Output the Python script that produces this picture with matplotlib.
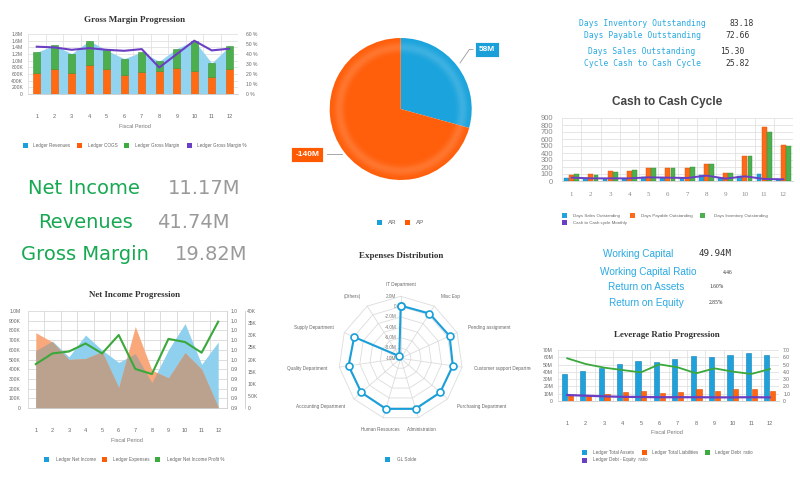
import numpy as np
import matplotlib
matplotlib.use('Agg')
import matplotlib.pyplot as plt
from matplotlib.patches import Rectangle, Circle
from matplotlib.lines import Line2D
from matplotlib.transforms import Bbox, TransformedBbox
from matplotlib.ticker import FixedLocator, FixedFormatter

plt.rcParams['font.family'] = ['Liberation Sans', 'DejaVu Sans']

# ---------------- data ----------------
periods = list(range(1, 13))
period_labels = [str(p) for p in periods]

# Gross Margin Progression (values in M, percent)
gm_revenues = [1.25, 1.46, 1.21, 1.60, 1.31, 1.06, 1.26, 0.98, 1.36, 1.60, 0.93, 1.43]
gm_cogs = [0.64, 0.76, 0.64, 0.86, 0.74, 0.58, 0.66, 0.70, 0.79, 0.70, 0.52, 0.75]
gm_margin = [0.61, 0.70, 0.57, 0.74, 0.57, 0.48, 0.60, 0.28, 0.57, 0.90, 0.41, 0.68]
gm_pct = [47.3, 46.6, 44.2, 45.9, 44.2, 43.2, 44.9, 26.5, 39.9, 53.3, 43.6, 45.3]

# Pie AR / AP (M)
pie_labels = ['AR', 'AP']
pie_values = [58, 140]
pie_texts = ['58M', '-140M']

# Top-right KPIs
cycle_names = ['Days Inventory Outstanding', 'Days Payable Outstanding',
               'Days Sales Outstanding', 'Cycle Cash to Cash Cycle']
cycle_values = ['83.18', '72.66', '15.30', '25.82']

# Cash to Cash Cycle
dso = [48, 43, 34, 34, 62, 48, 38, 91, 38, 72, 96, 34]
dpo = [91, 101, 140, 144, 192, 192, 188, 245, 115, 361, 765, 515]
dio = [96, 87, 135, 154, 183, 192, 197, 236, 111, 356, 697, 500]
ccc = [48, 38, 38, 38, 52, 48, 43, 77, 34, 67, 29, 24]

# Left KPIs
kpi_names = ['Net Income', 'Revenues', 'Gross Margin']
kpi_values = ['11.17M', '41.74M', '19.82M']

# Net Income Progression (M, K)
ni_net_income = [0.593, 0.69, 0.528, 0.752, 0.597, 0.47, 0.56, 0.26, 0.60, 0.87, 0.45, 0.68]
ni_expenses = [0.776, 0.68, 0.50, 0.51, 0.58, 0.21, 0.84, 0.39, 0.31, 0.57, 0.40, 0.01]
ni_profit = [18.1, 22.5, 23.3, 26.6, 22.5, 30.1, 16.1, 14.0, 28.5, 27.2, 22.8, 35.6]

# Expenses Distribution (M)
exp_categories = ['IT Department', 'Misc Exp', 'Pending assignment',
                  'Customer support Department', 'Purchasing Department',
                  'Administration', 'Human Resources', 'Accounting Department',
                  'Quality Department', 'Supply Department', '(Others)']
exp_values = [0.2, 0.3, 0.4, 0.2, 0.1, 0.2, 0.2, 0.1, 0.2, -0.1, -9.5]

# Working capital KPIs
wc_names = ['Working Capital', 'Working Capital Ratio', 'Return on Assets', 'Return on Equity']
wc_values = ['49.94M', '4.46', '1.60%', '2.85%']

# Leverage Ratio Progression
lev_assets = [36.6, 41.2, 45.7, 51.2, 54.9, 53.1, 57.2, 61.3, 60.4, 63.1, 65.4, 63.1]
lev_liab = [8.2, 8.2, 9.6, 11.9, 13.7, 11.0, 12.4, 16.0, 13.7, 16.0, 16.9, 13.7]
lev_debt_ratio = [5.86, 5.08, 4.58, 4.25, 3.93, 5.03, 4.62, 3.80, 4.48, 4.03, 3.71, 4.39]
lev_de_ratio = [0.82, 0.73, 0.64, 0.57, 0.55, 0.52, 0.52, 0.52, 0.50, 0.50, 0.52, 0.50]

# ---------------- helpers ----------------
W, H = 800, 487
fig = plt.figure(figsize=(W / 100, H / 100), dpi=100)
fig.patch.set_facecolor('white')

BLUE = '#1a9fdb'
ORANGE = '#ff5c0a'
GREEN = '#3dab3d'
PURPLE = '#6b3fc4'
GRID = '#e2e2e2'
TICK = '#666666'


def add_ax(x0, y0, x1, y1, **kw):
    return fig.add_axes([x0 / W, 1 - y1 / H, (x1 - x0) / W, (y1 - y0) / H], **kw)


def ftext(x, y, s, **kw):
    return fig.text(x / W, 1 - y / H, s, **kw)


def fline(xs, ys, **kw):
    fig.add_artist(Line2D([x / W for x in xs], [1 - y / H for y in ys],
                          transform=fig.transFigure, **kw))


def legend_sq(xs, yc, color, tx, label, s=5, fs=3.3):
    fig.add_artist(Rectangle((xs / W, 1 - (yc + s / 2) / H), s / W, s / H,
                             transform=fig.transFigure, facecolor=color,
                             edgecolor='none'))
    ftext(tx, yc, label, fontsize=fs, color='#666666', va='center', ha='left')


def title(x, y, s, fs=6.5):
    ftext(x, y, s, fontsize=fs, fontweight='bold', color='#333333',
          family='Liberation Serif', ha='center', va='center')


def base_style(ax, xpad=14.4, xfs=4.0, yfs=3.6, ypad=3.6):
    for side in ['left', 'top', 'right']:
        ax.spines[side].set_visible(False)
    ax.spines['bottom'].set_color('#cccccc')
    ax.spines['bottom'].set_linewidth(0.6)
    ax.set_xlim(0.5, 12.5)
    ax.set_xticks(periods)
    ax.set_xticklabels(period_labels)
    ax.set_xticks(np.arange(0.5, 13, 1), minor=True)
    ax.tick_params(axis='x', which='both', length=0, pad=xpad, labelsize=xfs,
                   labelcolor=TICK)
    ax.tick_params(axis='y', length=0, pad=ypad, labelsize=yfs, labelcolor=TICK)
    ax.grid(True, which='minor', axis='x', color=GRID, lw=0.6)
    ax.grid(True, which='major', axis='y', color=GRID, lw=0.6)
    ax.set_axisbelow(True)


def fmt_k(v):
    if v == 0:
        return '0'
    if v >= 1e6:
        return f'{v / 1e6:.1f}M'
    return f'{v / 1e3:.0f}K'


x = np.array(periods, dtype=float)

# ---------------- Gross Margin Progression ----------------
title(135, 20, 'Gross Margin Progression')
ax = add_ax(28, 34, 238, 94)
base_style(ax)
ax.fill_between(x, np.array(gm_revenues) * 1e6, color='#92d3ef', lw=0, zorder=1)
ax.bar(x, np.array(gm_cogs) * 1e6, width=0.42, color='#ff6a13', edgecolor='#e85a05',
       lw=0.4, zorder=2)
ax.bar(x, np.array(gm_margin) * 1e6, bottom=np.array(gm_cogs) * 1e6, width=0.42,
       color='#4cae4c', edgecolor='#3a963a', lw=0.4, zorder=2)
ax.set_ylim(0, 1.8e6)
yt = np.arange(0, 1.81e6, 0.2e6)
ax.set_yticks(yt)
ax.set_yticklabels([fmt_k(v) for v in yt])
ax2 = ax.twinx()
ax2.plot(x, gm_pct, color=PURPLE, lw=1.5, zorder=3)
ax2.set_ylim(0, 60)
ax2.set_yticks(range(0, 61, 10))
ax2.set_yticklabels([f'{v} %' for v in range(0, 61, 10)])
ax2.tick_params(length=0, labelsize=3.6, labelcolor=TICK, pad=6)
for s in ax2.spines.values():
    s.set_visible(False)
ftext(135, 126, 'Fiscal Period', fontsize=4, color='#777777', ha='center', va='center')
legend_sq(22.7, 145.5, BLUE, 33.3, 'Ledger Revenues')
legend_sq(77.3, 145.5, ORANGE, 88.3, 'Ledger COGS')
legend_sq(124, 145.5, GREEN, 135, 'Ledger Gross Margin')
legend_sq(186.7, 145.5, PURPLE, 197.3, 'Ledger Gross Margin %')

# ---------------- Pie ----------------
cx, cy, r = 400.7, 109, 71
axp = add_ax(cx - r, cy - r, cx + r, cy + r)
axp.pie(pie_values, startangle=90, counterclock=False,
        colors=['#1aa3dc', '#ff5e0a'], radius=1,
        wedgeprops=dict(edgecolor='none'))
# smooth radial shading (lighter band near the rim)
gy, gx = np.mgrid[-1:1:400j, -1:1:400j]
gr = np.hypot(gx, gy)
shade = np.zeros((400, 400, 4))
shade[..., :3] = 1.0
shade[..., 3] = 0.15 * np.exp(-((gr - 0.87) / 0.07) ** 2)
im = axp.imshow(shade, extent=[-1, 1, -1, 1], origin='lower', interpolation='bilinear',
                zorder=5)
im.set_clip_path(Circle((0, 0), 1, transform=axp.transData))
axp.set_xlim(-1, 1)
axp.set_ylim(-1, 1)
axp.set_aspect('auto')
axp.axis('off')
fline([460, 469.3, 473], [63, 49.5, 49.5], color='#999999', lw=0.6)
fline([326.7, 341.7], [154.3, 154.3], color='#999999', lw=0.6)
ftext(487, 49.7, pie_texts[0], fontsize=6, fontweight='bold', color='white',
      ha='center', va='center',
      bbox=dict(boxstyle='square,pad=0.5', facecolor='#1a9fd9', edgecolor='white', lw=0.6))
ftext(307.3, 154.5, pie_texts[1], fontsize=6, fontweight='bold', color='white',
      ha='center', va='center',
      bbox=dict(boxstyle='square,pad=0.5', facecolor='#ff5a00', edgecolor='white', lw=0.6))
legend_sq(377, 222.5, '#1a9fd9', 388, pie_labels[0], s=5, fs=4.5)
legend_sq(405, 222.5, '#ff5a00', 415.7, pie_labels[1], s=5, fs=4.5)

# ---------------- Top-right KPI text ----------------
cyc_y = [23.3, 36, 51, 63.3]
cyc_vx = [730, 725, 720, 725]
for name, val, yy, vx in zip(cycle_names, cycle_values, cyc_y, cyc_vx):
    ftext(642, yy, name, fontsize=5.8, family='DejaVu Sans Mono', color='#29a9e1',
          ha='center', va='center')
    ftext(vx, yy, val, fontsize=5.8, family='DejaVu Sans Mono', color='#333333',
          ha='left', va='center')

# ---------------- Cash to Cash Cycle ----------------
ftext(667, 102, 'Cash to Cash Cycle', fontsize=8.5, fontweight='bold', color='#444444',
      ha='center', va='center')
axc = add_ax(562, 118, 793, 181)
base_style(axc, xpad=8, xfs=5, yfs=5.5, ypad=6.5)
for lbl in axc.get_xticklabels():
    lbl.set_family('Liberation Serif')
    lbl.set_color('#888888')
axc.bar(x - 0.27, dso, width=0.25, color='#22a3de', edgecolor='#1284b8', lw=0.3, zorder=2)
axc.bar(x, dpo, width=0.25, color='#ff6a1a', edgecolor='#e05000', lw=0.3, zorder=2)
axc.bar(x + 0.27, dio, width=0.25, color='#4caf50', edgecolor='#359035', lw=0.3, zorder=2)
axc.plot(x, ccc, color=PURPLE, lw=1.4, zorder=3)
axc.set_ylim(0, 900)
axc.set_yticks(range(0, 901, 100))
axc.tick_params(axis='y', labelcolor='#888888')
legend_sq(561.7, 215.5, '#22a3de', 572.7, 'Days Sales Outstanding', fs=3.2)
legend_sq(630, 215.5, '#ff6a1a', 640.7, 'Days Payable Outstanding', fs=3.2)
legend_sq(700, 215.5, '#4caf50', 714, 'Days Inventory Outstanding', fs=3.2)
legend_sq(561.7, 222.7, PURPLE, 572.7, 'Cash to Cash cycle Monthly', fs=3.2)

# ---------------- Left KPIs ----------------
kpi_y = [188, 222, 255]
kpi_cx = [84, 85, 85]
kpi_vx = [168, 157, 175]
for name, val, yy, ccx, vx in zip(kpi_names, kpi_values, kpi_y, kpi_cx, kpi_vx):
    ftext(ccx, yy, name, fontsize=14, family='DejaVu Sans', color='#17a852',
          ha='center', va='center')
    ftext(vx, yy, val, fontsize=14, family='DejaVu Sans', color='#9a9a9a',
          ha='left', va='center')

# ---------------- Net Income Progression ----------------
title(135, 295, 'Net Income Progression')
axn = add_ax(27.5, 311, 226.5, 408)
base_style(axn, ypad=5)
xf = np.linspace(1, 12, 1101)
b_f = np.interp(xf, x, np.array(ni_net_income) * 1e6)
o_f = np.interp(xf, x, np.array(ni_expenses) * 1e6)
axn.fill_between(xf, b_f, color='#8fd0ee', lw=0, zorder=1)
axn.fill_between(xf, o_f, color='#f9a87c', lw=0, zorder=1)
axn.fill_between(xf, np.minimum(b_f, o_f), color='#baa28f', lw=0, zorder=1)
axn.set_ylim(0, 1.0e6)
yt = np.arange(0, 1.01e6, 1e5)
axn.set_yticks(yt)
axn.set_yticklabels([fmt_k(v) for v in yt])
axn.grid(True, which='minor', axis='x', color='#d8d8d8', lw=0.6)
axn.grid(True, which='major', axis='y', color='#d8d8d8', lw=0.6)
axn2 = axn.twinx()
axn2.set_ylim(0, 10)
axn2.yaxis.set_major_locator(FixedLocator(range(11)))
axn2.yaxis.set_major_formatter(FixedFormatter(['0.9'] * 5 + ['1.0'] * 6))
axn2.tick_params(length=0, labelsize=3.6, labelcolor=TICK, pad=3)
for s in ['left', 'top', 'bottom']:
    axn2.spines[s].set_visible(False)
axn2.spines['right'].set_color('#cccccc')
axn2.spines['right'].set_linewidth(0.6)
axn3 = axn.twinx()
axn3.spines['right'].set_position(('outward', 13))
for s in ['left', 'top', 'bottom']:
    axn3.spines[s].set_visible(False)
axn3.spines['right'].set_color('#cccccc')
axn3.spines['right'].set_linewidth(0.6)
axn3.plot(x, ni_profit, color='#3aa83a', lw=1.5, zorder=3)
axn3.set_ylim(0, 40)
axn3.set_yticks(range(0, 41, 5))
axn3.set_yticklabels(['0', '5.0K'] + [f'{v}K' for v in range(10, 41, 5)])
axn3.tick_params(length=0, labelsize=3.6, labelcolor=TICK, pad=2)
ftext(127, 441, 'Fiscal Period', fontsize=4, color='#777777', ha='center', va='center')
legend_sq(44.3, 459.5, BLUE, 55.7, 'Ledger Net Income')
legend_sq(102, 459.5, ORANGE, 113.3, 'Ledger Expenses')
legend_sq(155.3, 459.5, GREEN, 166.7, 'Ledger Net Income Profit %')

# ---------------- Expenses Distribution (radar) ----------------
title(401, 256, 'Expenses Distribution')
rcx, rcy, rr = 400.7, 358.3, 62
axr = add_ax(rcx - rr, rcy - rr, rcx + rr, rcy + rr, projection='polar')
axr.set_theta_zero_location('N')
axr.set_theta_direction(-1)
rmin, rmax = -10, 2
axr.set_ylim(rmin, rmax)
axr.set_axis_off()
n = len(exp_categories)
theta = np.arange(n) * 2 * np.pi / n
thc = np.r_[theta, theta[0]]
for rv in range(-8, 3, 2):
    axr.plot(thc, [rv] * (n + 1), color='#dcdcdc', lw=0.6, clip_on=False, zorder=1)
for th in theta:
    axr.plot([th, th], [rmin, rmax], color='#dcdcdc', lw=0.6, clip_on=False, zorder=1)
ring_labels = {2: '2.0M', 0: '0', -2: '-2.0M', -4: '-4.0M', -6: '-6.0M', -8: '-8.0M', -10: '-10M'}
for rv, lab in ring_labels.items():
    axr.annotate(lab, xy=(0, rv), xytext=(-3, 0), textcoords='offset points',
                 ha='right', va='center', fontsize=3.3, color='#777777')
vals = np.array(exp_values)
axr.plot(thc, np.r_[vals, vals[0]], color='#1a9fd9', lw=1.5, marker='o', ms=5,
         mfc='white', mec='#1a9fd9', mew=1.2, clip_on=False, zorder=3)
clipbox = TransformedBbox(Bbox.from_extents(270 / W, 0, 531 / W, 1), fig.transFigure)
r_lab = rmax + (74 - rr) / rr * (rmax - rmin)
for th, lab in zip(theta, exp_categories):
    s = np.sin(th)
    ha = 'center' if abs(s) < 0.3 else ('left' if s > 0 else 'right')
    t = axr.text(th, r_lab, lab, ha=ha, va='center', fontsize=3.3, color='#666666',
                 clip_on=False)
    if lab.startswith('Customer'):
        t.set_clip_on(True)
        t.set_clip_box(clipbox)
legend_sq(385, 459.7, '#1a9fd9', 396.7, 'GL Solde')

# ---------------- Working capital KPIs ----------------
wc_y = [254, 272, 287, 303]
wc_cx = [638, 648, 646.5, 646.5]
wc_vx = [699, 723, 709, 709]
for i, (name, val, yy, ccx, vx) in enumerate(zip(wc_names, wc_values, wc_y, wc_cx, wc_vx)):
    ftext(ccx, yy, name, fontsize=7.2, color='#29a9e1', ha='center', va='center')
    if i == 0:
        ftext(vx, yy, val, fontsize=6.6, family='DejaVu Sans Mono', color='#333333',
              ha='left', va='center')
    else:
        ftext(vx, yy, val, fontsize=4, family='Liberation Serif', color='#333333',
              ha='left', va='center')

# ---------------- Leverage Ratio Progression ----------------
title(667, 335, 'Leverage Ratio Progression')
axl = add_ax(558, 350, 779, 401)
base_style(axl, ypad=3.6)
axl.bar(x - 0.16, lev_assets, width=0.28, color='#1fa2dc', edgecolor='#117fb2', lw=0.4, zorder=2)
axl.bar(x + 0.16, lev_liab, width=0.28, color='#ff6512', edgecolor='#dd5000', lw=0.4, zorder=2)
axl.set_ylim(0, 70)
axl.set_yticks(range(0, 71, 10))
axl.set_yticklabels(['0'] + [f'{v}M' for v in range(10, 71, 10)])
axl2 = axl.twinx()
axl2.plot(x, lev_debt_ratio, color='#3aa83a', lw=1.3, zorder=3)
axl2.plot(x, lev_de_ratio, color=PURPLE, lw=1.6, zorder=3)
axl2.set_ylim(0, 7)
axl2.set_yticks(range(0, 8))
axl2.set_yticklabels(['0'] + [f'{v}.0' for v in range(1, 8)])
axl2.tick_params(length=0, labelsize=3.6, labelcolor=TICK, pad=3)
for s in axl2.spines.values():
    s.set_visible(False)
ftext(667, 433, 'Fiscal Period', fontsize=4, color='#777777', ha='center', va='center')
legend_sq(581.7, 452.5, BLUE, 593.3, 'Ledger Total Assets')
legend_sq(641.7, 452.5, ORANGE, 651.7, 'Ledger Total Liabilities')
legend_sq(705, 452.5, GREEN, 715, 'Ledger Debt  ratio')
legend_sq(581.7, 460, PURPLE, 593.3, 'Ledger Debt - Equity  ratio')

fig.savefig('out.png', dpi=100, facecolor='white')
